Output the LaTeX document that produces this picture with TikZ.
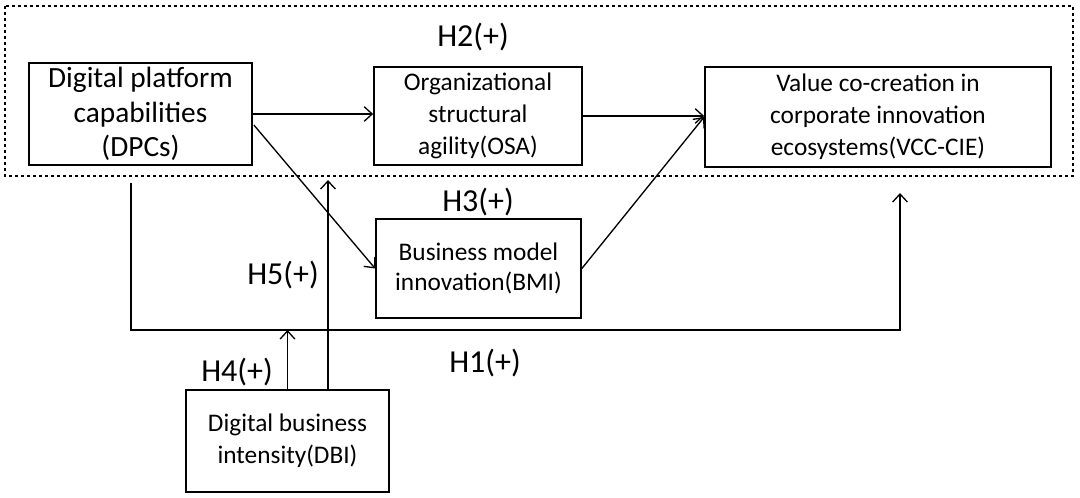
\documentclass[tikz,border=0pt]{standalone}
\usepackage{fontspec}
\setmainfont{Carlito}
\usetikzlibrary{arrows.meta,positioning,calc}

\tikzset{
    box/.style={draw, line width=1.3pt, align=center, inner sep=0pt},
    hyp/.style={font=\fontsize{24}{28}\selectfont},
    link/.style={line width=1pt, -{Straight Barb[length=6pt,width=11pt]}}
}

\begin{document}
\begin{tikzpicture}[x=0.75pt, y=-0.75pt]
    \useasboundingbox (0,0) rectangle (1080,498);

    % Boxes
    \node[box, minimum width=167.25pt, minimum height=76.5pt,
          font=\fontsize{22}{26}\selectfont] (dpc) at (140.5,114)
          {Digital platform\\capabilities\\(DPCs)};
    \node[box, minimum width=156pt, minimum height=73.5pt,
          font=\fontsize{19}{24}\selectfont] (osa) at (478,116)
          {Organizational\\structural\\agility(OSA)};
    \node[box, minimum width=259.5pt, minimum height=75pt,
          font=\fontsize{19}{24}\selectfont] (vcc) at (878,117)
          {Value co-creation in\\corporate innovation\\ecosystems(VCC-CIE)};
    \node[box, minimum width=153.75pt, minimum height=74.25pt,
          font=\fontsize{19}{23}\selectfont] (bmi) at (478.5,268.5)
          {Business model\\innovation(BMI)};
    \node[box, minimum width=152.25pt, minimum height=76.5pt,
          font=\fontsize{19}{24}\selectfont] (dbi) at (287.5,441)
          {Digital business\\intensity(DBI)};

    % Dotted frame
    \draw[line width=2.2pt, dash pattern=on 2.4pt off 2.1pt] (5,6) rectangle (1073,176);

    % Paths
    \draw[link] (dpc.east) -- (dpc.east -| osa.west);
    \draw[link] (osa.east) -- (osa.east -| vcc.west);
    \draw[link] ($(dpc.east)+(1,11)$) -- (bmi.west);
    \draw[link] (bmi.east) -- (vcc.west);

    % H1 line
    \coordinate (h1a) at (131,183);
    \coordinate (h1line) at (131,330);
    \coordinate (h1tip) at (900,193);
    \draw[link] (h1a) -- (h1line) -| (h1tip);

    % Moderator
    \coordinate (h5tip) at (328,180);
    \draw[link] (dbi.north) -- (dbi.north |- h1line);
    \draw[link] (h5tip |- dbi.north) -- (h5tip);

    % Labels
    \node[hyp] (h2) at (473,37) {H2(+)};
    \node[hyp] (h3) at (478,202) {H3(+)};
    \node[hyp] (h5) at (283,275) {H5(+)};
    \node[hyp] (h4) at (237,372) {H4(+)};
    \node[hyp] (h1) at (485,363) {H1(+)};
\end{tikzpicture}
\end{document}
